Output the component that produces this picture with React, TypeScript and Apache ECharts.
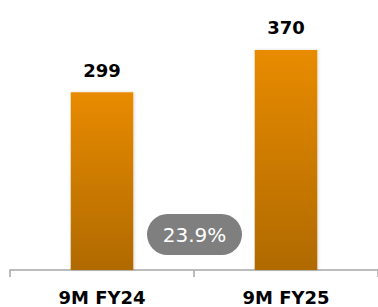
import React, { useEffect, useRef } from "react";
import * as echarts from "echarts";

const categories = ["9M FY24", "9M FY25"];
const values = [299, 370];
const growthLabel = "23.9%";

export default function App() {
  const ref = useRef<HTMLDivElement>(null);
  useEffect(() => {
    const chart = echarts.init(ref.current!, null, { renderer: "svg" });
    chart.setOption({
      animation: false,
      grid: { left: 10, right: -2, top: 32.16, bottom: 37 },
      xAxis: {
        type: "category",
        data: categories,
        axisLine: { lineStyle: { color: "#a6a6a6", width: 1.5 } },
        axisTick: { show: true, length: 7, lineStyle: { color: "#a6a6a6", width: 1.5 } },
        axisLabel: {
          color: "#000",
          fontFamily: "DejaVu Sans",
          fontWeight: "bold",
          fontSize: 18,
          margin: 18,
        },
      },
      yAxis: {
        type: "value",
        min: 0,
        max: 400,
        show: false,
        splitLine: { show: false },
      },
      series: [
        {
          type: "bar",
          data: values,
          barWidth: "34%",
          itemStyle: {
            color: new echarts.graphic.LinearGradient(0, 0, 0, 1, [
              { offset: 0, color: "#e88b00" },
              { offset: 1, color: "#b06a00" },
            ]),
            shadowColor: "rgba(0,0,0,0.15)",
            shadowBlur: 3,
            shadowOffsetX: 1,
          },
          label: {
            show: true,
            position: "top",
            distance: 13,
            color: "#000",
            fontFamily: "DejaVu Sans",
            fontWeight: "bold",
            fontSize: 18,
          },
        },
      ],
      graphic: [
        {
          type: "rect",
          shape: { x: 147, y: 214, width: 95, height: 41, r: 20.5 },
          style: { fill: "#7f7f7f" },
          z: 10,
        },
        {
          type: "text",
          x: 194.5,
          y: 235,
          style: {
            text: growthLabel,
            fill: "#fff",
            font: "20px 'DejaVu Sans'",
            align: "center",
            verticalAlign: "middle",
          },
          z: 11,
        },
      ],
    });
    return () => chart.dispose();
  }, []);
  return <div ref={ref} style={{ width: 378, height: 307, position: "absolute", left: 0, top: 0 }} />;
}
